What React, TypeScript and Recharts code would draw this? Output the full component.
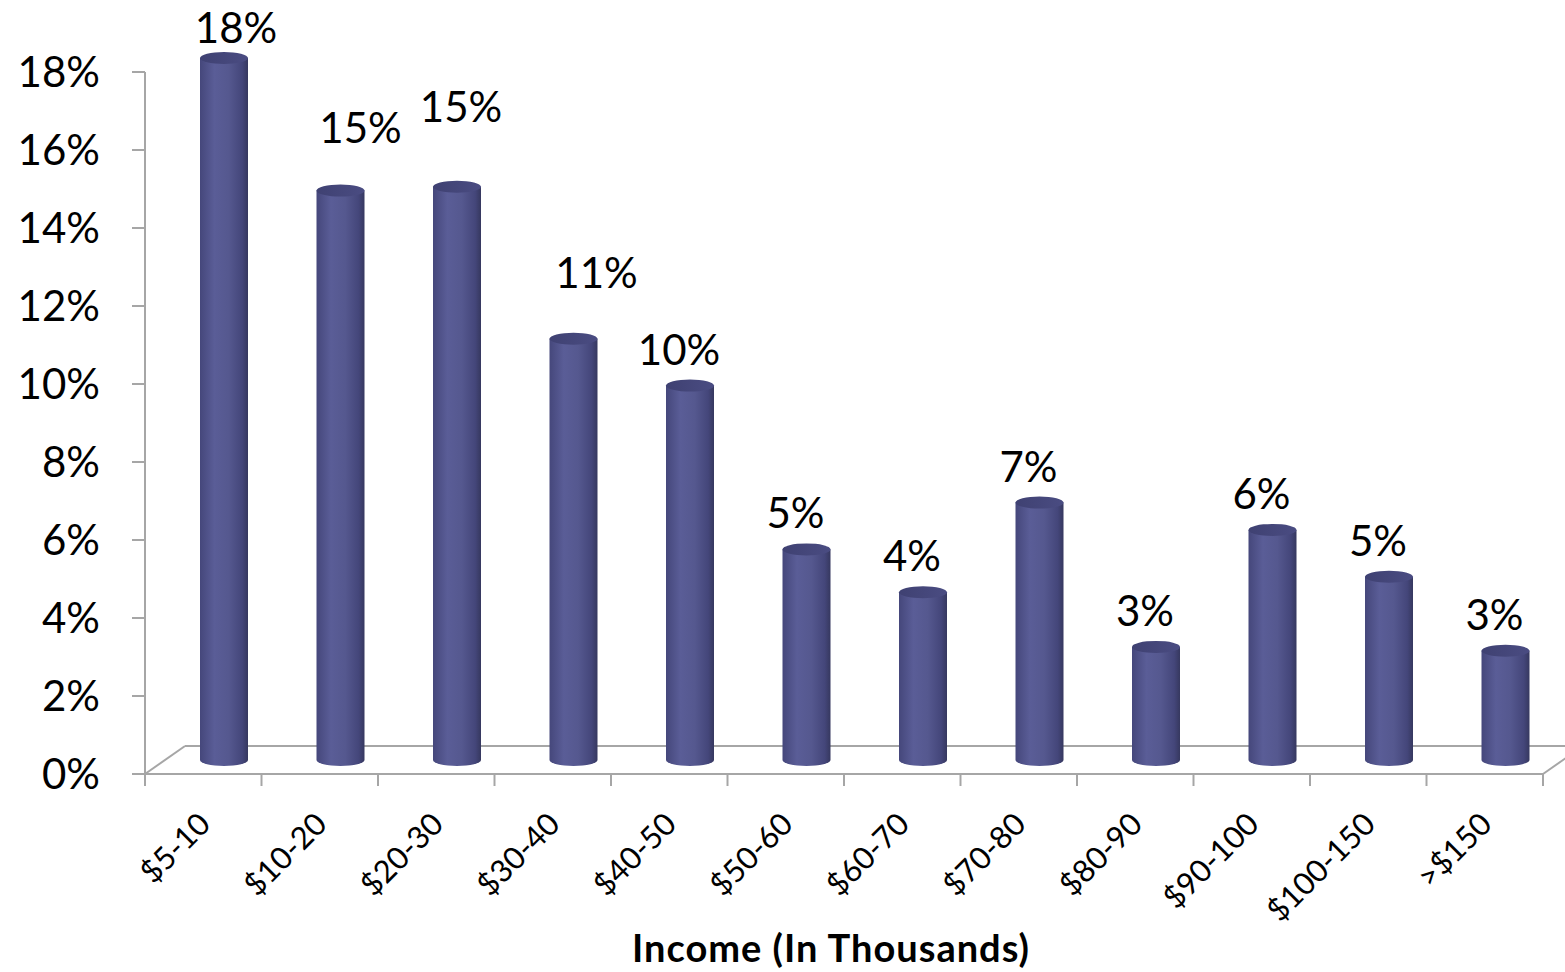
import { BarChart, Bar, XAxis, YAxis, LabelList, Customized, usePlotArea } from "recharts";

const categories = [
  "$5-10",
  "$10-20",
  "$20-30",
  "$30-40",
  "$40-50",
  "$50-60",
  "$60-70",
  "$70-80",
  "$80-90",
  "$90-100",
  "$100-150",
  ">$150",
];

const shares = [18.0, 14.6, 14.7, 10.8, 9.6, 5.4, 4.3, 6.6, 2.9, 5.9, 4.7, 2.8];

const yTicks = [0, 2, 4, 6, 8, 10, 12, 14, 16, 18];

const data = categories.map((name, i) => ({ name, share: shares[i] }));

// the 3d floor pushes every cylinder back and to the right
const DEPTH_X = 21;
const DEPTH_Y = 14;
const AXIS_GREY = "#a6a6a6";
const FONT = "Lato, 'Open Sans', sans-serif";

// excel placed a few of the labels oddly, nudge those
const labelNudge: [number, number][] = [
  [23, 6],
  [31, -27],
  [15, -44],
  [34, -30],
];

function Cylinder(props: any) {
  const { x, y, width, height } = props;
  const left = x + DEPTH_X;
  const cx = left + width / 2;
  const top = y - DEPTH_Y;
  const bottom = y + height - DEPTH_Y;
  const rx = width / 2;
  const ry = 6;
  return (
    <g>
      <path
        d={`M${left},${top} L${left},${bottom} A${rx},${ry} 0 0 0 ${left + width},${bottom} L${left + width},${top} Z`}
        fill="url(#cylSide)"
      />
      <ellipse cx={cx} cy={top} rx={rx} ry={ry} fill="url(#cylTop)" />
    </g>
  );
}

function ValueLabel(props: any) {
  const { x, y, width, value, index } = props;
  const [dx, dy] = labelNudge[index] || [0, 0];
  return (
    <text
      x={x + DEPTH_X + width / 2 - 11 + dx}
      y={y - 35 + dy}
      textAnchor="middle"
      fontSize={42}
      fontFamily={FONT}
      fill="#000"
    >
      {Math.round(value)}%
    </text>
  );
}

function CategoryTick(props: any) {
  const { x, y, payload } = props;
  const ax = x + 9;
  const ay = y + 44;
  return (
    <text
      x={ax}
      y={ay}
      textAnchor="end"
      transform={`rotate(-45, ${ax}, ${ay})`}
      fontSize={31}
      fontFamily={FONT}
      fill="#000"
    >
      {payload.value}
    </text>
  );
}

function Floor() {
  const area = usePlotArea();
  if (!area) return null;
  const { x, y, width, height } = area;
  const bottom = y + height;
  const back = bottom - 28;
  const n = categories.length;
  const step = width / n;
  return (
    <g stroke={AXIS_GREY} strokeWidth={2} fill="none">
      <line x1={x} y1={bottom} x2={x + 40} y2={back} />
      <line x1={x + 40} y1={back} x2={x + width + 40} y2={back} />
      <line x1={x + width} y1={bottom} x2={x + width + 40} y2={back} />
      <line x1={x} y1={bottom} x2={x + width} y2={bottom} />
      {Array.from({ length: n + 1 }, (_, i) => (
        <line key={i} x1={x + i * step} y1={bottom} x2={x + i * step} y2={bottom + 12} />
      ))}
    </g>
  );
}

export default function App() {
  return (
    <div style={{ position: "absolute", left: 0, top: 0, background: "#fff" }}>
      <BarChart
        width={1565}
        height={972}
        data={data}
        margin={{ top: 72, right: 22, left: 0, bottom: 0 }}
      >
        <defs>
          <linearGradient id="cylSide" x1="0" y1="0" x2="1" y2="0">
            <stop offset="0%" stopColor="#45477b" />
            <stop offset="30%" stopColor="#5a5d97" />
            <stop offset="60%" stopColor="#55588f" />
            <stop offset="88%" stopColor="#44467a" />
            <stop offset="100%" stopColor="#36385f" />
          </linearGradient>
          <linearGradient id="cylTop" x1="0" y1="0" x2="1" y2="0">
            <stop offset="0%" stopColor="#3f4172" />
            <stop offset="100%" stopColor="#4a4c82" />
          </linearGradient>
        </defs>
        <Customized component={<Floor />} />
        <XAxis
          dataKey="name"
          height={198}
          axisLine={false}
          tickLine={false}
          interval={0}
          tick={<CategoryTick />}
          label={{
            value: "Income (In Thousands)",
            position: "insideBottom",
            offset: 10,
            dx: -13,
            fontSize: 38,
            fontWeight: 700,
            letterSpacing: 1,
            fontFamily: FONT,
            fill: "#000",
          }}
        />
        <YAxis
          width={145}
          domain={[0, 18]}
          ticks={yTicks}
          interval={0}
          tickFormatter={(v: number) => `${v}%`}
          axisLine={{ stroke: AXIS_GREY, strokeWidth: 2 }}
          tickLine={{ stroke: AXIS_GREY, strokeWidth: 2 }}
          tickSize={13}
          tickMargin={32}
          tick={{ fontSize: 42, fontFamily: FONT, fill: "#000" }}
        />
        <Bar
          dataKey="share"
          barSize={48}
          shape={<Cylinder />}
          isAnimationActive={false}
        >
          <LabelList dataKey="share" content={<ValueLabel />} />
        </Bar>
      </BarChart>
    </div>
  );
}
